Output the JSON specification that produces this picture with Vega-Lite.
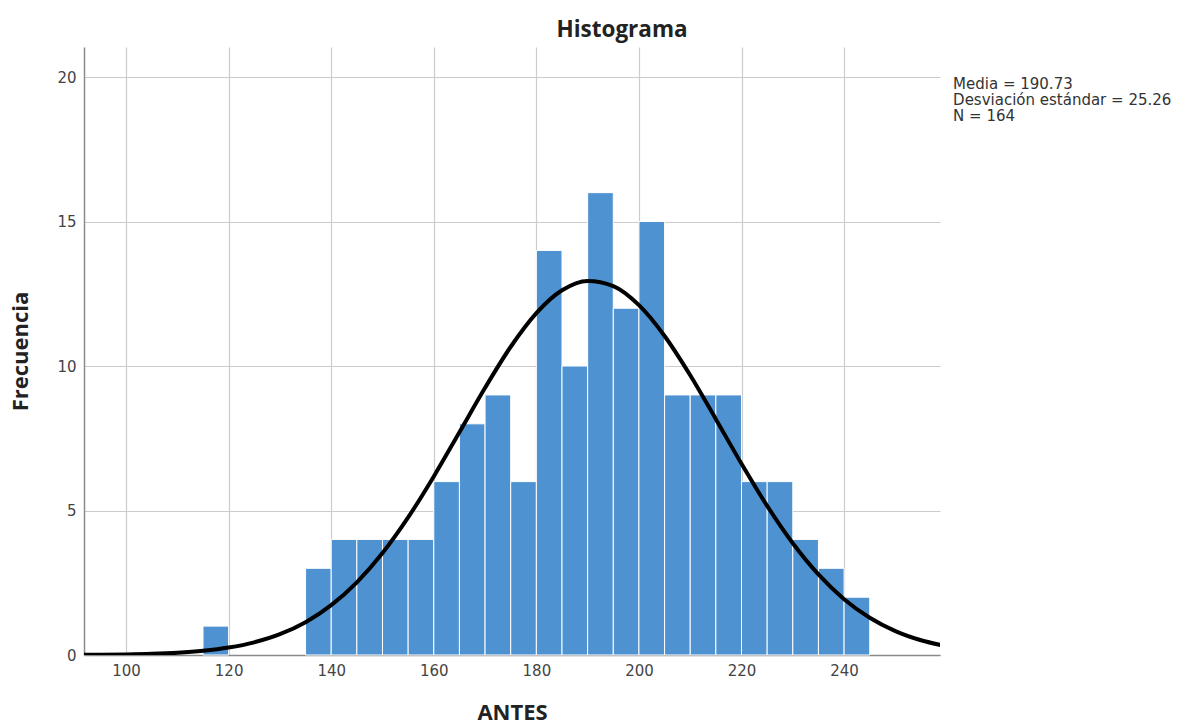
{
  "$schema": "https://vega.github.io/schema/vega-lite/v6.json",
  "autosize": "none",
  "width": 856,
  "height": 608,
  "padding": {"left": 84, "top": 47, "right": 245, "bottom": 70},
  "background": "white",
  "config": {"view": {"stroke": null}},
  "title": {"text": "Histograma", "anchor": "middle", "frame": "group", "dx": 110, "fontSize": 22.5, "fontWeight": "bold", "font": "Open Sans", "color": "#222222", "offset": 6},
  "datasets": {
    "bins": [
      {"start": 115, "end": 120, "count": 1},
      {"start": 135, "end": 140, "count": 3},
      {"start": 140, "end": 145, "count": 4},
      {"start": 145, "end": 150, "count": 4},
      {"start": 150, "end": 155, "count": 4},
      {"start": 155, "end": 160, "count": 4},
      {"start": 160, "end": 165, "count": 6},
      {"start": 165, "end": 170, "count": 8},
      {"start": 170, "end": 175, "count": 9},
      {"start": 175, "end": 180, "count": 6},
      {"start": 180, "end": 185, "count": 14},
      {"start": 185, "end": 190, "count": 10},
      {"start": 190, "end": 195, "count": 16},
      {"start": 195, "end": 200, "count": 12},
      {"start": 200, "end": 205, "count": 15},
      {"start": 205, "end": 210, "count": 9},
      {"start": 210, "end": 215, "count": 9},
      {"start": 215, "end": 220, "count": 9},
      {"start": 220, "end": 225, "count": 6},
      {"start": 225, "end": 230, "count": 6},
      {"start": 230, "end": 235, "count": 4},
      {"start": 235, "end": 240, "count": 3},
      {"start": 240, "end": 245, "count": 2}
    ],
    "curve": [
      {"x": 90, "y": 0.0046}, {"x": 95, "y": 0.0099}, {"x": 100, "y": 0.0205},
      {"x": 105, "y": 0.0408}, {"x": 110, "y": 0.0785}, {"x": 115, "y": 0.1448},
      {"x": 120, "y": 0.257}, {"x": 125, "y": 0.438}, {"x": 130, "y": 0.72},
      {"x": 135, "y": 1.136}, {"x": 140, "y": 1.724}, {"x": 145, "y": 2.515},
      {"x": 150, "y": 3.529}, {"x": 155, "y": 4.762}, {"x": 160, "y": 6.179},
      {"x": 165, "y": 7.709}, {"x": 170, "y": 9.246}, {"x": 175, "y": 10.667},
      {"x": 180, "y": 11.832}, {"x": 185, "y": 12.621}, {"x": 190, "y": 12.945},
      {"x": 195, "y": 12.766}, {"x": 200, "y": 12.107}, {"x": 205, "y": 11.04},
      {"x": 210, "y": 9.68}, {"x": 215, "y": 8.162}, {"x": 220, "y": 6.617},
      {"x": 225, "y": 5.159}, {"x": 230, "y": 3.868}, {"x": 235, "y": 2.788},
      {"x": 240, "y": 1.932}, {"x": 245, "y": 1.288}, {"x": 250, "y": 0.826},
      {"x": 255, "y": 0.509}, {"x": 260, "y": 0.301}
    ],
    "stats": [
      {"x": 261.25, "y": 19.76, "label": "Media = 190.73"},
      {"x": 261.25, "y": 19.2, "label": "Desviación estándar = 25.26"},
      {"x": 261.25, "y": 18.65, "label": "N = 164"}
    ]
  },
  "layer": [
    {
      "data": {"name": "bins"},
      "mark": {"type": "rect", "color": "#4e92d1", "stroke": "#ffffff", "strokeWidth": 1},
      "encoding": {
        "x": {"field": "start", "type": "quantitative",
          "scale": {"domain": [91.8, 258.7], "nice": false, "zero": false},
          "axis": {"values": [100, 120, 140, 160, 180, 200, 220, 240], "title": "ANTES", "titleFont": "Open Sans", "titleFontSize": 22, "titleFontWeight": "bold", "titleColor": "#222222", "titlePadding": 24, "labelFont": "DejaVu Sans", "labelFontSize": 15, "labelColor": "#444444", "labelPadding": 8, "ticks": false, "domainColor": "#8a8a8a", "domainWidth": 1.5, "grid": true, "gridColor": "#cccccc", "gridWidth": 1.2}},
        "x2": {"field": "end"},
        "y": {"field": "count", "type": "quantitative",
          "scale": {"domain": [0, 21.04], "nice": false},
          "axis": {"values": [0, 5, 10, 15, 20], "title": "Frecuencia", "titleFont": "Open Sans", "titleFontSize": 22, "titleFontWeight": "bold", "titleColor": "#222222", "titlePadding": 24, "labelFont": "DejaVu Sans", "labelFontSize": 15, "labelColor": "#444444", "labelPadding": 8, "ticks": false, "domainColor": "#8a8a8a", "domainWidth": 1.5, "grid": true, "gridColor": "#cccccc", "gridWidth": 1.2}},
        "y2": {"datum": 0}
      }
    },
    {
      "data": {"name": "curve"},
      "mark": {"type": "line", "color": "#000000", "strokeWidth": 4, "interpolate": "monotone", "clip": true},
      "encoding": {
        "x": {"field": "x", "type": "quantitative"},
        "y": {"field": "y", "type": "quantitative"}
      }
    },
    {
      "data": {"name": "stats"},
      "mark": {"type": "text", "align": "left", "baseline": "middle", "font": "DejaVu Sans", "fontSize": 15, "color": "#333333", "clip": false},
      "encoding": {
        "x": {"field": "x", "type": "quantitative"},
        "y": {"field": "y", "type": "quantitative"},
        "text": {"field": "label"}
      }
    }
  ]
}
